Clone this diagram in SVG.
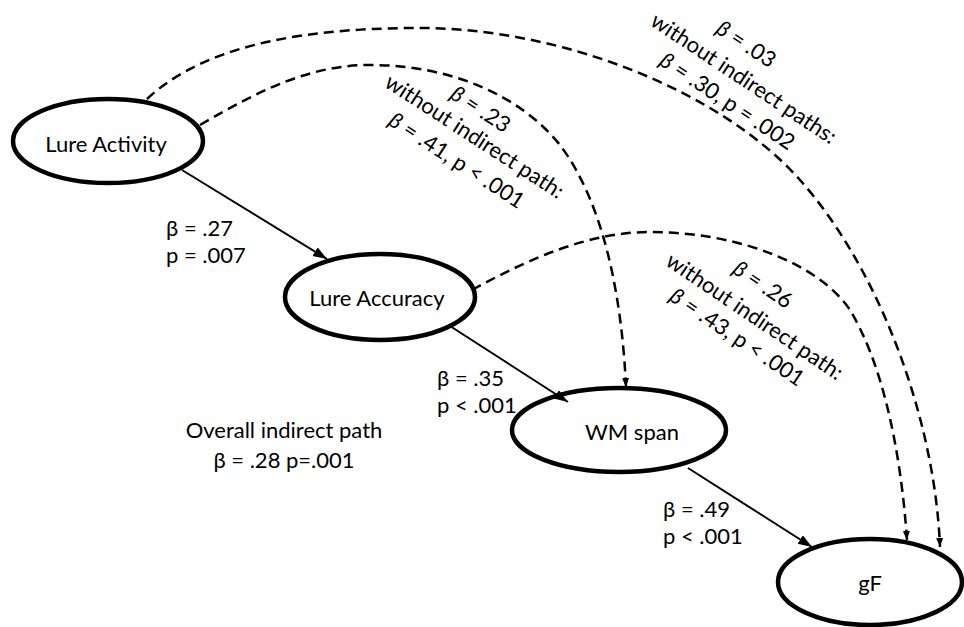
<svg xmlns="http://www.w3.org/2000/svg" width="964" height="627" viewBox="0 0 964 627">
<defs>
<style>
.node{fill:#fff;stroke:#000;stroke-width:4.5}
.t{font-family:Lato,"Liberation Sans",sans-serif;font-size:22px;fill:#000}
.m{text-anchor:middle}
.solid{fill:none;stroke:#000;stroke-width:2}
.dash{fill:none;stroke:#000;stroke-width:2.5;stroke-dasharray:10 6}
.b{font-style:italic}
</style>
<marker id="ah" markerUnits="userSpaceOnUse" markerWidth="16" markerHeight="12" refX="14" refY="5" orient="auto">
<path d="M0,0 L14,5 L0,10 z" fill="#000"/>
</marker>
<marker id="ahd" markerUnits="userSpaceOnUse" markerWidth="10" markerHeight="8" refX="9" refY="3.5" orient="auto">
<path d="M0,0 L9,3.5 L0,7 z" fill="#000"/>
</marker>
</defs>
<rect width="964" height="627" fill="#fff"/>

<g id="lure-activity">
<ellipse class="node" cx="108" cy="141" rx="95" ry="42"/>
<text class="t m" x="106" y="152">Lure Activity</text>
</g>
<g id="lure-accuracy">
<ellipse class="node" cx="380" cy="297" rx="95" ry="43"/>
<text class="t m" x="377" y="306">Lure Accuracy</text>
</g>
<g id="wm-span">
<ellipse class="node" cx="619" cy="430" rx="107" ry="42"/>
<text class="t m" x="632" y="440">WM span</text>
</g>
<g id="gf">
<ellipse class="node" cx="870" cy="582" rx="92" ry="43"/>
<text class="t m" x="870" y="591">gF</text>
</g>

<g id="connectors">
<line class="solid" x1="182" y1="170" x2="327" y2="259" marker-end="url(#ah)"/>
<line class="solid" x1="450" y1="326" x2="568" y2="402" marker-end="url(#ah)"/>
<line class="solid" x1="688" y1="468" x2="812" y2="547" marker-end="url(#ah)"/>
<path class="dash" d="M147,99 C210,40 320,28 420,28 C560,28 720,90 800,180 C880,270 935,420 940,547" marker-end="url(#ahd)"/>
<path class="dash" d="M200,125 C260,90 310,65 370,65 C450,65 520,95 560,145 C605,205 622,300 626,387" marker-end="url(#ahd)"/>
<path class="dash" d="M472,290 C530,258 590,232 650,232 C740,232 820,265 850,310 C880,360 900,440 907,540" marker-end="url(#ahd)"/>
</g>

<g id="labels">
<text class="t" x="166" y="236">β = .27</text>
<text class="t" x="166" y="263">p = .007</text>
<text class="t" x="437" y="386">β = .35</text>
<text class="t" x="437" y="413">p &lt; .001</text>
<text class="t" x="663" y="517">β = .49</text>
<text class="t" x="663" y="544">p &lt; .001</text>
<text class="t m" x="284" y="438">Overall indirect path</text>
<text class="t m" x="284" y="468">β = .28 p=.001</text>
<g transform="translate(475,136) rotate(33)">
<text class="t m" x="-10" y="-18"><tspan class="b">β</tspan> = .23</text>
<text class="t m" x="0" y="8">without indirect path:</text>
<text class="t m" x="-2" y="38"><tspan class="b">β</tspan> = .41, p &lt; .001</text>
</g>
<g transform="translate(744,78) rotate(33.6)">
<text class="t m" x="-17" y="-22"><tspan class="b">β</tspan> = .03</text>
<text class="t m" x="0" y="8">without indirect paths:</text>
<text class="t m" x="-1" y="36"><tspan class="b">β</tspan> = .30, p = .002</text>
</g>
<g transform="translate(755,316) rotate(34)">
<text class="t m" x="-11" y="-23"><tspan class="b">β</tspan> = .26</text>
<text class="t m" x="0" y="8">without indirect path:</text>
<text class="t m" x="-3" y="35"><tspan class="b">β</tspan> = .43, p &lt; .001</text>
</g>
</g>
</svg>
